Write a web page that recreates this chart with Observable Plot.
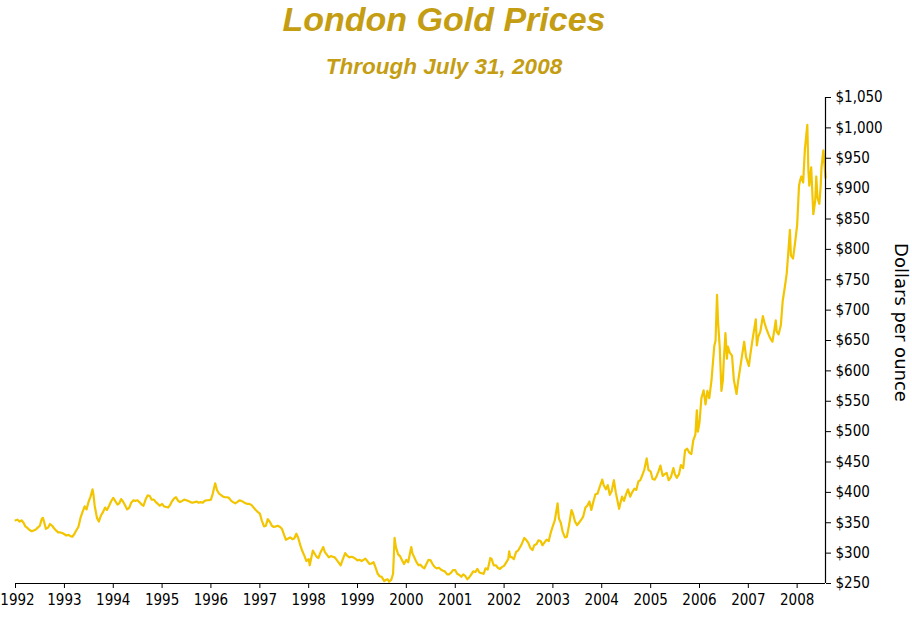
<!DOCTYPE html>
<html>
<head>
<meta charset="utf-8">
<script src="https://cdn.jsdelivr.net/npm/d3@7"></script>
<script src="https://cdn.jsdelivr.net/npm/@observablehq/plot@0.6"></script>
<style>
  html, body { margin: 0; padding: 0; background: #fff; }
  #wrap { width: 912px; }
  .title { width: 888px; text-align: center; font-family: "Liberation Sans", Arial, sans-serif; font-style: italic; font-weight: bold; color: #C59D12; }
  #t1 { font-size: 34px; line-height: 38px; height: 38px; }
  #t2 { font-size: 22.5px; line-height: 25px; height: 25px; margin-top: 16px; }
  svg { display: block; }
</style>
</head>
<body>
<div id="wrap">
  <div class="title" id="t1">London Gold Prices</div>
  <div class="title" id="t2">Through July 31, 2008</div>
  <div id="chart"></div>
</div>
<script>
const titleText = "London Gold Prices";
const subtitleText = "Through July 31, 2008";
const yLabel = "Dollars per ounce";

const yearTicks = ["1992","1993","1994","1995","1996","1997","1998","1999","2000","2001","2002","2003","2004","2005","2006","2007","2008"];
const priceTicks = [250,300,350,400,450,500,550,600,650,700,750,800,850,900,950,1000,1050];
const xDomain = ["1992-01-01", "2008-07-31"];

const y1992 = [["1992-01-02",354],["1992-01-15",355],["1992-02-01",352],["1992-02-15",354],["1992-03-01",350],["1992-03-15",344],["1992-04-01",341],["1992-04-15",338],["1992-05-01",336],["1992-05-15",337],["1992-06-01",339],["1992-06-15",342],["1992-07-01",345],["1992-07-15",356],["1992-07-24",358],["1992-08-01",352],["1992-08-15",340],["1992-09-01",342],["1992-09-15",348],["1992-10-01",345],["1992-10-15",341],["1992-11-01",337],["1992-11-15",334],["1992-12-01",334],["1992-12-15",333]];
const y1993 = [["1993-01-01",331],["1993-01-15",329],["1993-02-01",330],["1993-02-15",328],["1993-03-01",327],["1993-03-15",331],["1993-04-01",338],["1993-04-15",343],["1993-05-01",358],["1993-05-15",367],["1993-06-01",377],["1993-06-15",372],["1993-07-01",385],["1993-07-15",393],["1993-07-30",405],["1993-08-06",396],["1993-08-15",378],["1993-09-01",358],["1993-09-15",352],["1993-10-01",362],["1993-10-15",367],["1993-11-01",375],["1993-11-15",371],["1993-12-01",378],["1993-12-15",385]];
const y1994 = [["1994-01-01",391],["1994-01-15",386],["1994-02-01",380],["1994-02-15",382],["1994-03-01",389],["1994-03-15",385],["1994-04-01",378],["1994-04-15",372],["1994-05-01",375],["1994-05-15",383],["1994-06-01",387],["1994-06-15",386],["1994-07-01",387],["1994-07-15",384],["1994-08-01",380],["1994-08-15",378],["1994-09-01",389],["1994-09-15",395],["1994-10-01",394],["1994-10-15",388],["1994-11-01",388],["1994-11-15",384],["1994-12-01",381],["1994-12-15",378]];
const y1995 = [["1995-01-01",381],["1995-01-15",377],["1995-02-01",376],["1995-02-15",375],["1995-03-01",379],["1995-03-15",385],["1995-04-01",390],["1995-04-15",392],["1995-05-01",386],["1995-05-15",384],["1995-06-01",386],["1995-06-15",388],["1995-07-01",387],["1995-07-15",386],["1995-08-01",384],["1995-08-15",383],["1995-09-01",384],["1995-09-15",385],["1995-10-01",383],["1995-10-15",384],["1995-11-01",383],["1995-11-15",386],["1995-12-01",387],["1995-12-15",387]];
const y1996 = [["1996-01-01",388],["1996-01-15",398],["1996-02-02",415],["1996-02-15",404],["1996-03-01",398],["1996-03-15",396],["1996-04-01",393],["1996-04-15",392],["1996-05-01",392],["1996-05-15",391],["1996-06-01",386],["1996-06-15",384],["1996-07-01",382],["1996-07-15",384],["1996-08-01",387],["1996-08-15",386],["1996-09-01",384],["1996-09-15",382],["1996-10-01",381],["1996-10-15",381],["1996-11-01",379],["1996-11-15",375],["1996-12-01",371],["1996-12-15",368]];
const y1997 = [["1997-01-01",365],["1997-01-15",354],["1997-02-01",344],["1997-02-15",345],["1997-03-01",356],["1997-03-15",352],["1997-04-01",345],["1997-04-15",343],["1997-05-01",344],["1997-05-15",345],["1997-06-01",343],["1997-06-15",340],["1997-07-01",330],["1997-07-15",322],["1997-08-01",324],["1997-08-15",326],["1997-09-01",323],["1997-09-15",324],["1997-10-01",332],["1997-10-15",325],["1997-11-01",312],["1997-11-15",303],["1997-12-01",295],["1997-12-15",287]];
const y1998 = [["1998-01-01",290],["1998-01-09",280],["1998-01-20",292],["1998-02-01",304],["1998-02-15",299],["1998-03-01",294],["1998-03-15",292],["1998-04-01",302],["1998-04-20",310],["1998-05-01",302],["1998-05-15",298],["1998-06-01",293],["1998-06-15",295],["1998-07-01",294],["1998-07-15",293],["1998-08-01",288],["1998-08-15",284],["1998-08-28",280],["1998-09-15",291],["1998-10-01",300],["1998-10-15",296],["1998-11-01",293],["1998-11-15",294],["1998-12-01",293],["1998-12-15",291]];
const y1999 = [["1999-01-01",288],["1999-01-15",289],["1999-02-01",287],["1999-02-15",289],["1999-03-01",291],["1999-03-15",287],["1999-04-01",282],["1999-04-15",283],["1999-05-01",285],["1999-05-15",277],["1999-06-01",266],["1999-06-15",262],["1999-07-01",261],["1999-07-20",254],["1999-08-01",256],["1999-08-15",257],["1999-08-25",253],["1999-09-10",256],["1999-09-24",266],["1999-10-05",325],["1999-10-15",310],["1999-11-01",298],["1999-11-15",295],["1999-12-01",288],["1999-12-15",282]];
const y2000 = [["2000-01-01",289],["2000-01-15",285],["2000-02-07",310],["2000-02-15",300],["2000-03-01",293],["2000-03-15",286],["2000-04-01",280],["2000-04-15",281],["2000-05-01",277],["2000-05-15",275],["2000-06-01",283],["2000-06-15",289],["2000-07-01",288],["2000-07-15",282],["2000-08-01",277],["2000-08-15",275],["2000-09-01",276],["2000-09-15",273],["2000-10-01",271],["2000-10-15",270],["2000-11-01",265],["2000-11-15",265],["2000-12-01",268],["2000-12-15",272]];
const y2001 = [["2001-01-01",272],["2001-01-15",266],["2001-02-01",264],["2001-02-15",261],["2001-03-01",265],["2001-03-15",263],["2001-04-01",257],["2001-04-15",260],["2001-05-01",265],["2001-05-15",270],["2001-06-01",269],["2001-06-15",274],["2001-07-01",268],["2001-07-15",267],["2001-08-01",266],["2001-08-15",275],["2001-09-01",273],["2001-09-20",292],["2001-10-01",290],["2001-10-15",280],["2001-11-01",280],["2001-11-15",276],["2001-12-01",274],["2001-12-15",277]];
const y2002 = [["2002-01-01",279],["2002-01-15",284],["2002-02-01",290],["2002-02-08",303],["2002-02-15",294],["2002-03-01",293],["2002-03-15",290],["2002-04-01",302],["2002-04-15",304],["2002-05-01",310],["2002-05-15",316],["2002-06-01",325],["2002-06-15",322],["2002-07-01",317],["2002-07-15",309],["2002-08-01",305],["2002-08-15",313],["2002-09-01",315],["2002-09-15",321],["2002-10-01",320],["2002-10-15",313],["2002-11-01",318],["2002-11-15",322],["2002-12-01",320],["2002-12-15",333]];
const y2003 = [["2003-01-01",345],["2003-01-15",354],["2003-02-05",382],["2003-02-15",357],["2003-03-01",350],["2003-03-15",335],["2003-04-01",326],["2003-04-15",327],["2003-05-01",345],["2003-05-20",371],["2003-06-01",364],["2003-06-15",352],["2003-07-01",346],["2003-07-15",350],["2003-08-01",355],["2003-08-15",360],["2003-09-01",375],["2003-09-15",378],["2003-10-01",385],["2003-10-15",371],["2003-11-01",386],["2003-11-15",397],["2003-12-01",398],["2003-12-15",408]];
const y2004 = [["2004-01-05",421],["2004-01-15",412],["2004-02-01",405],["2004-02-15",412],["2004-03-01",396],["2004-03-15",402],["2004-04-01",420],["2004-04-15",400],["2004-05-10",373],["2004-05-20",383],["2004-06-01",393],["2004-06-15",386],["2004-07-01",397],["2004-07-15",405],["2004-08-01",393],["2004-08-15",400],["2004-09-01",406],["2004-09-15",404],["2004-10-01",418],["2004-10-15",420],["2004-11-01",429],["2004-11-15",438],["2004-12-02",456],["2004-12-15",437]];
const y2005 = [["2005-01-01",434],["2005-01-15",422],["2005-02-01",421],["2005-02-15",427],["2005-03-01",435],["2005-03-15",444],["2005-04-01",427],["2005-04-15",430],["2005-05-01",432],["2005-05-15",420],["2005-06-01",425],["2005-06-20",440],["2005-07-01",430],["2005-07-15",424],["2005-08-01",430],["2005-08-15",445],["2005-09-01",440],["2005-09-15",469],["2005-10-01",472],["2005-10-15",466],["2005-11-01",463],["2005-11-15",485],["2005-12-01",495],["2005-12-12",535],["2005-12-20",500]];
const y2006 = [["2006-01-01",515],["2006-01-15",555],["2006-02-01",568],["2006-02-15",545],["2006-03-01",567],["2006-03-15",555],["2006-04-01",585],["2006-04-21",640],["2006-05-01",650],["2006-05-12",725],["2006-05-20",680],["2006-06-01",640],["2006-06-14",567],["2006-06-25",585],["2006-07-01",615],["2006-07-14",662],["2006-07-25",620],["2006-08-01",640],["2006-08-15",630],["2006-09-01",625],["2006-09-15",585],["2006-10-05",562],["2006-10-15",580],["2006-11-01",605],["2006-11-15",625],["2006-12-01",648],["2006-12-15",623]];
const y2007 = [["2007-01-05",608],["2007-01-15",625],["2007-02-01",651],["2007-02-26",685],["2007-03-06",642],["2007-03-15",655],["2007-04-01",665],["2007-04-20",690],["2007-05-01",680],["2007-05-15",670],["2007-06-01",660],["2007-06-15",653],["2007-06-30",648],["2007-07-15",668],["2007-07-25",683],["2007-08-01",665],["2007-08-15",660],["2007-09-01",675],["2007-09-15",715],["2007-10-01",738],["2007-10-15",760],["2007-11-08",832],["2007-11-15",790],["2007-12-01",785],["2007-12-15",808]];
const y2008 = [["2008-01-01",840],["2008-01-15",905],["2008-01-25",915],["2008-02-01",920],["2008-02-15",910],["2008-02-28",965],["2008-03-17",1005],["2008-03-25",930],["2008-04-01",905],["2008-04-15",935],["2008-05-01",858],["2008-05-15",880],["2008-05-23",920],["2008-06-01",885],["2008-06-15",875],["2008-06-25",905],["2008-07-01",935],["2008-07-15",963],["2008-07-31",918]];

const series = [y1992,y1993,y1994,y1995,y1996,y1997,y1998,y1999,y2000,y2001,y2002,y2003,y2004,y2005,y2006,y2007,y2008]
  .flat().map(([d, p]) => ({date: new Date(d + "T00:00:00Z"), price: p}));

const tickDates = yearTicks.map(y => new Date(y + "-01-01T00:00:00Z"));
const domain = xDomain.map(d => new Date(d + "T00:00:00Z"));
const axisFont = "'Liberation Sans Narrow', 'DejaVu Sans Condensed', sans-serif";
const yearFmt = d => String(d.getUTCFullYear());

const chart = Plot.plot({
  width: 912,
  height: 541,
  marginLeft: 15,
  marginRight: 87,
  marginTop: 18,
  marginBottom: 37,
  style: {fontFamily: axisFont, background: "white", color: "black", overflow: "visible"},
  x: {type: "utc", domain: domain},
  y: {domain: [250, 1050]},
  marks: [
    Plot.lineY(series, {x: "date", y: "price", stroke: "#F2C500", strokeWidth: 2.2, curve: "linear"}),
    Plot.ruleY([250], {stroke: "black", strokeWidth: 1.2}),
    Plot.ruleX([domain[1]], {stroke: "black", strokeWidth: 1.2}),
    Plot.axisX(tickDates, {anchor: "bottom", tickSize: 5, text: null, stroke: "black", label: null}),
    Plot.axisX(tickDates.slice(0, 1), {anchor: "bottom", tickSize: 0, tickPadding: 11, dx: 2, fontSize: 15, fontFamily: axisFont, tickFormat: yearFmt, fill: "black", label: null}),
    Plot.axisX(tickDates.slice(1), {anchor: "bottom", tickSize: 0, tickPadding: 11, fontSize: 15, fontFamily: axisFont, tickFormat: yearFmt, fill: "black", label: null}),
    Plot.axisY(priceTicks, {anchor: "right", tickSize: 5, tickPadding: 5, fontSize: 15, fontFamily: axisFont, tickFormat: d => "$" + d3.format(",")(d), stroke: "black", fill: "black", label: null}),
    Plot.text([yLabel], {text: d => d, frameAnchor: "right", textAnchor: "middle", dx: 75, dy: -18, rotate: 90, fontSize: 18, fontFamily: "DejaVu Sans, sans-serif", fill: "black"})
  ]
});
document.getElementById("chart").appendChild(chart);
</script>
</body>
</html>
